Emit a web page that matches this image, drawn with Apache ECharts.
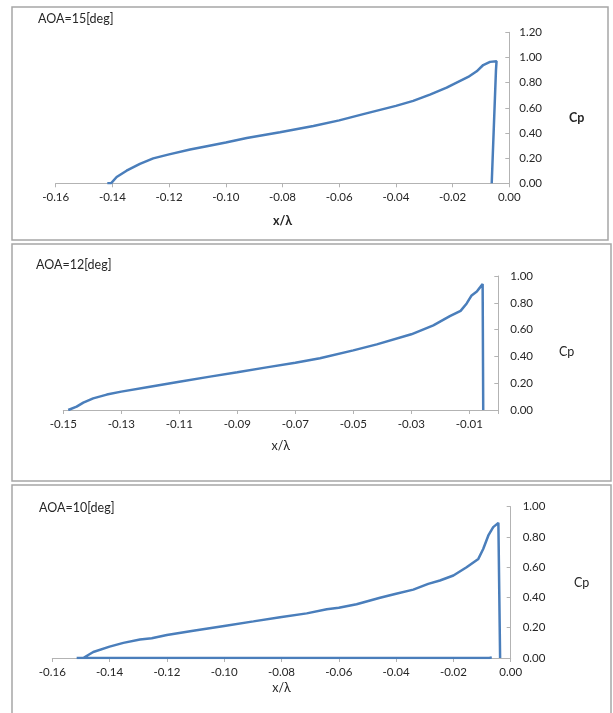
<!DOCTYPE html>
<html>
<head>
<meta charset="utf-8">
<script src="https://cdn.jsdelivr.net/npm/echarts@6/dist/echarts.min.js"></script>
<style>
  html, body { margin: 0; padding: 0; background: #ffffff; }
  #chart { width: 613px; height: 713px; }
</style>
</head>
<body>
<div id="chart"></div>
<script>
// ---------------- DATA ----------------
// AOA = 15 deg
const aoa15X  = [-0.1418, -0.1405, -0.1385, -0.1350, -0.1303, -0.1256, -0.1200, -0.1126, -0.1067, -0.1000,
                 -0.0926, -0.0809, -0.0691, -0.0600, -0.0515, -0.0400, -0.0339, -0.0280, -0.0221, -0.0200,
                 -0.0145, -0.0115, -0.0092, -0.0068, -0.0045, -0.0047, -0.0062];
const aoa15Cp = [0.000, 0.000, 0.050, 0.100, 0.155, 0.198, 0.230, 0.268, 0.295, 0.325,
                 0.360, 0.405, 0.455, 0.500, 0.550, 0.615, 0.655, 0.705, 0.760, 0.785,
                 0.845, 0.890, 0.940, 0.965, 0.970, 0.900, 0.000];

// AOA = 12 deg
const aoa12X  = [-0.1483, -0.1454, -0.1431, -0.1397, -0.1350, -0.1300, -0.1201, -0.1100, -0.0994, -0.0900,
                 -0.0799, -0.0700, -0.0615, -0.0500, -0.0419, -0.0300, -0.0224, -0.0167, -0.0130, -0.0109,
                 -0.0092, -0.0074, -0.0063, -0.0054, -0.0052, -0.0052];
const aoa12Cp = [0.000, 0.025, 0.055, 0.087, 0.115, 0.137, 0.174, 0.211, 0.249, 0.281,
                 0.318, 0.352, 0.386, 0.445, 0.490, 0.565, 0.632, 0.700, 0.740, 0.795,
                 0.855, 0.885, 0.915, 0.940, 0.930, 0.000];

// AOA = 10 deg (lower branch along Cp = 0, then upper branch)
const aoa10X  = [-0.0066, -0.0075, -0.1515, -0.1492, -0.1457, -0.1400, -0.1352, -0.1294, -0.1253, -0.1200,
                 -0.1108, -0.1000, -0.0898, -0.0805, -0.0712, -0.0642, -0.0600, -0.0538, -0.0456, -0.0400,
                 -0.0340, -0.0288, -0.0247, -0.0200, -0.0154, -0.0113, -0.0096, -0.0078, -0.0061, -0.0043,
                 -0.0037, -0.0037];
const aoa10Cp = [0.004, 0.000, 0.000, 0.000, 0.040, 0.075, 0.100, 0.122, 0.130, 0.152,
                 0.180, 0.212, 0.242, 0.270, 0.295, 0.322, 0.332, 0.355, 0.398, 0.425,
                 0.452, 0.490, 0.512, 0.545, 0.600, 0.655, 0.720, 0.810, 0.865, 0.893,
                 0.890, 0.000];

const panelTitles = ['AOA=15[deg]', 'AOA=12[deg]', 'AOA=10[deg]'];
const xAxisTitle = 'x/\u03bb';
const yAxisTitle = 'Cp';

// ---------------- CHART ----------------
const zip = (xs, ys) => xs.map((x, i) => [x, ys[i]]);
const FONT = 'Lato, "Open Sans", sans-serif';
const LINE_BLUE = '#4a7ebb';
const AXIS_GRAY = '#b3b3b3';
const TEXT = '#262626';

const fmt = (hideZero) => (v) => {
  if (Math.abs(v) < 1e-9) return hideZero ? '' : '0.00';
  return v.toFixed(2);
};

function xAx(idx, min, max, gap, bold, hideZero) {
  return {
    type: 'value', gridIndex: idx, min: min, max: max, interval: 0.02,
    position: 'bottom',
    axisLine: { show: true, onZero: false, lineStyle: { color: AXIS_GRAY, width: 1 } },
    axisTick: { show: true, length: 4, lineStyle: { color: AXIS_GRAY } },
    splitLine: { show: false },
    axisLabel: { color: TEXT, fontFamily: FONT, fontSize: 11.5, margin: 8, formatter: fmt(hideZero) },
    name: xAxisTitle, nameLocation: 'middle', nameGap: gap,
    nameTextStyle: { color: TEXT, fontFamily: FONT, fontSize: 12.5, fontWeight: bold ? 'bold' : 'normal' }
  };
}
function yAx(idx, max, margin) {
  return {
    type: 'value', gridIndex: idx, min: 0, max: max, interval: 0.2,
    position: 'right',
    axisLine: { show: true, lineStyle: { color: AXIS_GRAY, width: 1 } },
    axisTick: { show: true, inside: true, length: 4, lineStyle: { color: AXIS_GRAY } },
    splitLine: { show: false },
    axisLabel: { color: TEXT, fontFamily: FONT, fontSize: 11.5, margin: margin, formatter: (v) => v.toFixed(2) }
  };
}
function lineSeries(idx, xs, ys) {
  return {
    type: 'line', xAxisIndex: idx, yAxisIndex: idx,
    data: zip(xs, ys), showSymbol: false, symbol: 'none',
    lineStyle: { color: LINE_BLUE, width: 2.5 }, smooth: false,
    animation: false
  };
}
function label(text, x, y, bold, align) {
  return {
    type: 'text', x: x, y: y, z: 10,
    style: { text: text, fill: TEXT, font: (bold ? 'bold ' : '') + '12.5px ' + FONT,
             textAlign: align || 'left', textVerticalAlign: 'middle' }
  };
}
function frame(x, y, w, h) {
  return { type: 'rect', z: -1, shape: { x: x, y: y, width: w, height: h },
           style: { fill: 'none', stroke: '#a6a6a6', lineWidth: 1.5 } };
}

const chart = echarts.init(document.getElementById('chart'), null, { renderer: 'canvas' });
chart.setOption({
  animation: false,
  backgroundColor: '#ffffff',
  grid: [
    { left: 55.7, top: 32.3, width: 453.6, height: 151 },
    { left: 63.3, top: 276, width: 435, height: 134 },
    { left: 52.3, top: 506.7, width: 458.4, height: 151.3 }
  ],
  xAxis: [
    xAx(0, -0.16, 0, 31, true, false),
    xAx(1, -0.15, 0, 29.5, false, true),
    xAx(2, -0.16, 0, 23.5, false, false)
  ],
  yAxis: [
    yAx(0, 1.2, 10),
    yAx(1, 1.0, 12),
    yAx(2, 1.0, 12)
  ],
  series: [
    lineSeries(0, aoa15X, aoa15Cp),
    lineSeries(1, aoa12X, aoa12Cp),
    lineSeries(2, aoa10X, aoa10Cp)
  ],
  graphic: [
    frame(12, 7, 596, 233),
    frame(12, 244, 599, 237),
    frame(12, 485, 599, 240),
    label(panelTitles[0], 38, 19, false),
    label(panelTitles[1], 36, 265, false),
    label(panelTitles[2], 39, 508, false),
    label(yAxisTitle, 569, 118, true),
    label(yAxisTitle, 559, 352, false),
    label(yAxisTitle, 574, 583, false)
  ]
});
</script>
</body>
</html>
